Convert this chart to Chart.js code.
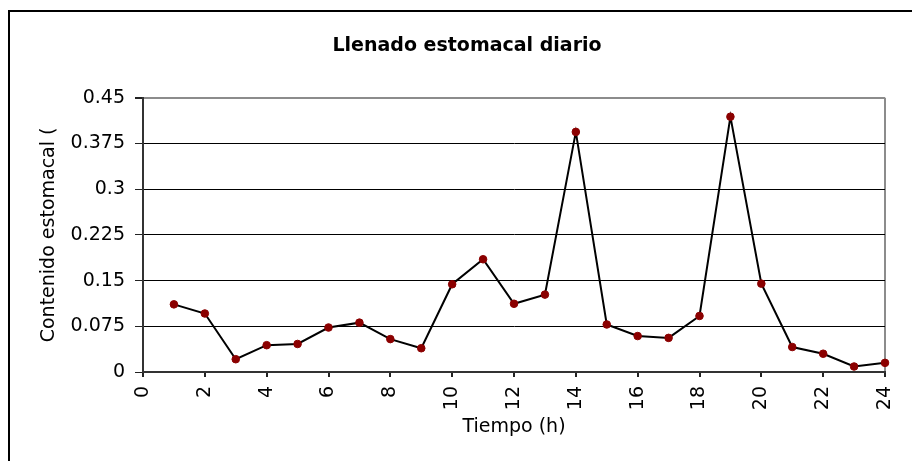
<!DOCTYPE html>
<html>
<head>
<meta charset="utf-8">
<script src="https://cdn.jsdelivr.net/npm/chart.js@4"></script>
<style>
  html, body { margin: 0; padding: 0; background: #fff; overflow: hidden; }
  #marco {
    position: absolute;
    left: 8px;
    top: 10px;
    border-top: 2px solid #000;
    border-left: 2px solid #000;
    width: 940px;
    height: 470px;
  }
  #grafico { display: block; }
</style>
</head>
<body>
<div id="marco">
  <canvas id="grafico" width="914" height="449"></canvas>
</div>
<script>
const horas = [1, 2, 3, 4, 5, 6, 7, 8, 9, 10, 11, 12, 13, 14, 15, 16, 17, 18, 19, 20, 21, 22, 23, 24];
const contenido = [0.111, 0.096, 0.021, 0.044, 0.046, 0.073, 0.081, 0.054, 0.039, 0.144, 0.185, 0.112,
                   0.127, 0.394, 0.078, 0.059, 0.056, 0.092, 0.419, 0.145, 0.041, 0.030, 0.009, 0.015];
const ticksX = [0, 2, 4, 6, 8, 10, 12, 14, 16, 18, 20, 22, 24];
const ticksY = [0, 0.075, 0.15, 0.225, 0.3, 0.375, 0.45];
const etiquetasY = ["0", "0.075", "0.15", "0.225", "0.3", "0.375", "0.45"];

const fuente = "'DejaVu Sans', Verdana, sans-serif";
const ctx = document.getElementById("grafico").getContext("2d");

const puntos = horas.map((h, i) => ({ x: h, y: contenido[i] }));

new Chart(ctx, {
  type: "line",
  data: {
    datasets: [
      {
        label: "Contenido estomacal",
        data: puntos,
        borderColor: "#000000",
        borderWidth: 2,
        pointRadius: 3.8,
        pointBackgroundColor: "#8b0000",
        pointBorderColor: "#8b0000",
        pointBorderWidth: 1,
        tension: 0,
        clip: false,
      },
    ],
  },
  options: {
    responsive: false,
    animation: false,
    layout: { padding: 0 },
    plugins: {
      legend: { display: false },
      tooltip: { enabled: false },
      title: {
        display: true,
        text: "Llenado estomacal diario",
        color: "#000",
        font: { family: fuente, size: 19, weight: "bold" },
        padding: { top: 23, bottom: 40 },
      },
    },
    scales: {
      x: {
        type: "linear",
        min: 0,
        max: 24,
        afterBuildTicks: (s) => { s.ticks = ticksX.map((v) => ({ value: v })); },
        afterFit: (s) => { s.height = 89; },
        ticks: {
          autoSkip: false,
          minRotation: 90,
          maxRotation: 90,
          padding: 9,
          color: "#000",
          font: { family: fuente, size: 19 },
        },
        grid: {
          drawOnChartArea: true,
          color: (c) => (c.tick && c.tick.value === 24 ? "#8c8c8c" : "rgba(0,0,0,0)"),
          lineWidth: 2,
          tickColor: "#222",
          tickLength: 5,
        },
        border: { color: "#333", width: 2 },
        title: {
          display: true,
          text: "Tiempo (h)",
          color: "#000",
          font: { family: fuente, size: 19 },
          padding: { top: 0, bottom: 23 },
        },
      },
      y: {
        min: 0,
        max: 0.45,
        afterBuildTicks: (s) => { s.ticks = ticksY.map((v) => ({ value: v })); },
        afterFit: (s) => { s.width = 133; },
        ticks: {
          padding: 10,
          color: "#000",
          font: { family: fuente, size: 19 },
          callback: (v, i) => etiquetasY[i],
        },
        grid: {
          color: (c) => (c.tick && c.tick.value === 0.45 ? "#8c8c8c" : "#000"),
          lineWidth: (c) => (c.tick && c.tick.value === 0.45 ? 2 : 1),
          tickColor: "#222",
          tickLength: 8,
        },
        border: { color: "#333", width: 2 },
        title: {
          display: true,
          text: "Contenido estomacal (",
          color: "#000",
          font: { family: fuente, size: 19 },
          padding: { top: 28, bottom: 0 },
        },
      },
      // eje vacío a la derecha para dejar el margen sin mover el título
      margen: {
        position: "right",
        min: 0,
        max: 1,
        afterFit: (s) => { s.width = 39; },
        ticks: { display: false },
        grid: { display: false },
        border: { display: false },
      },
    },
  },
});
</script>
</body>
</html>
